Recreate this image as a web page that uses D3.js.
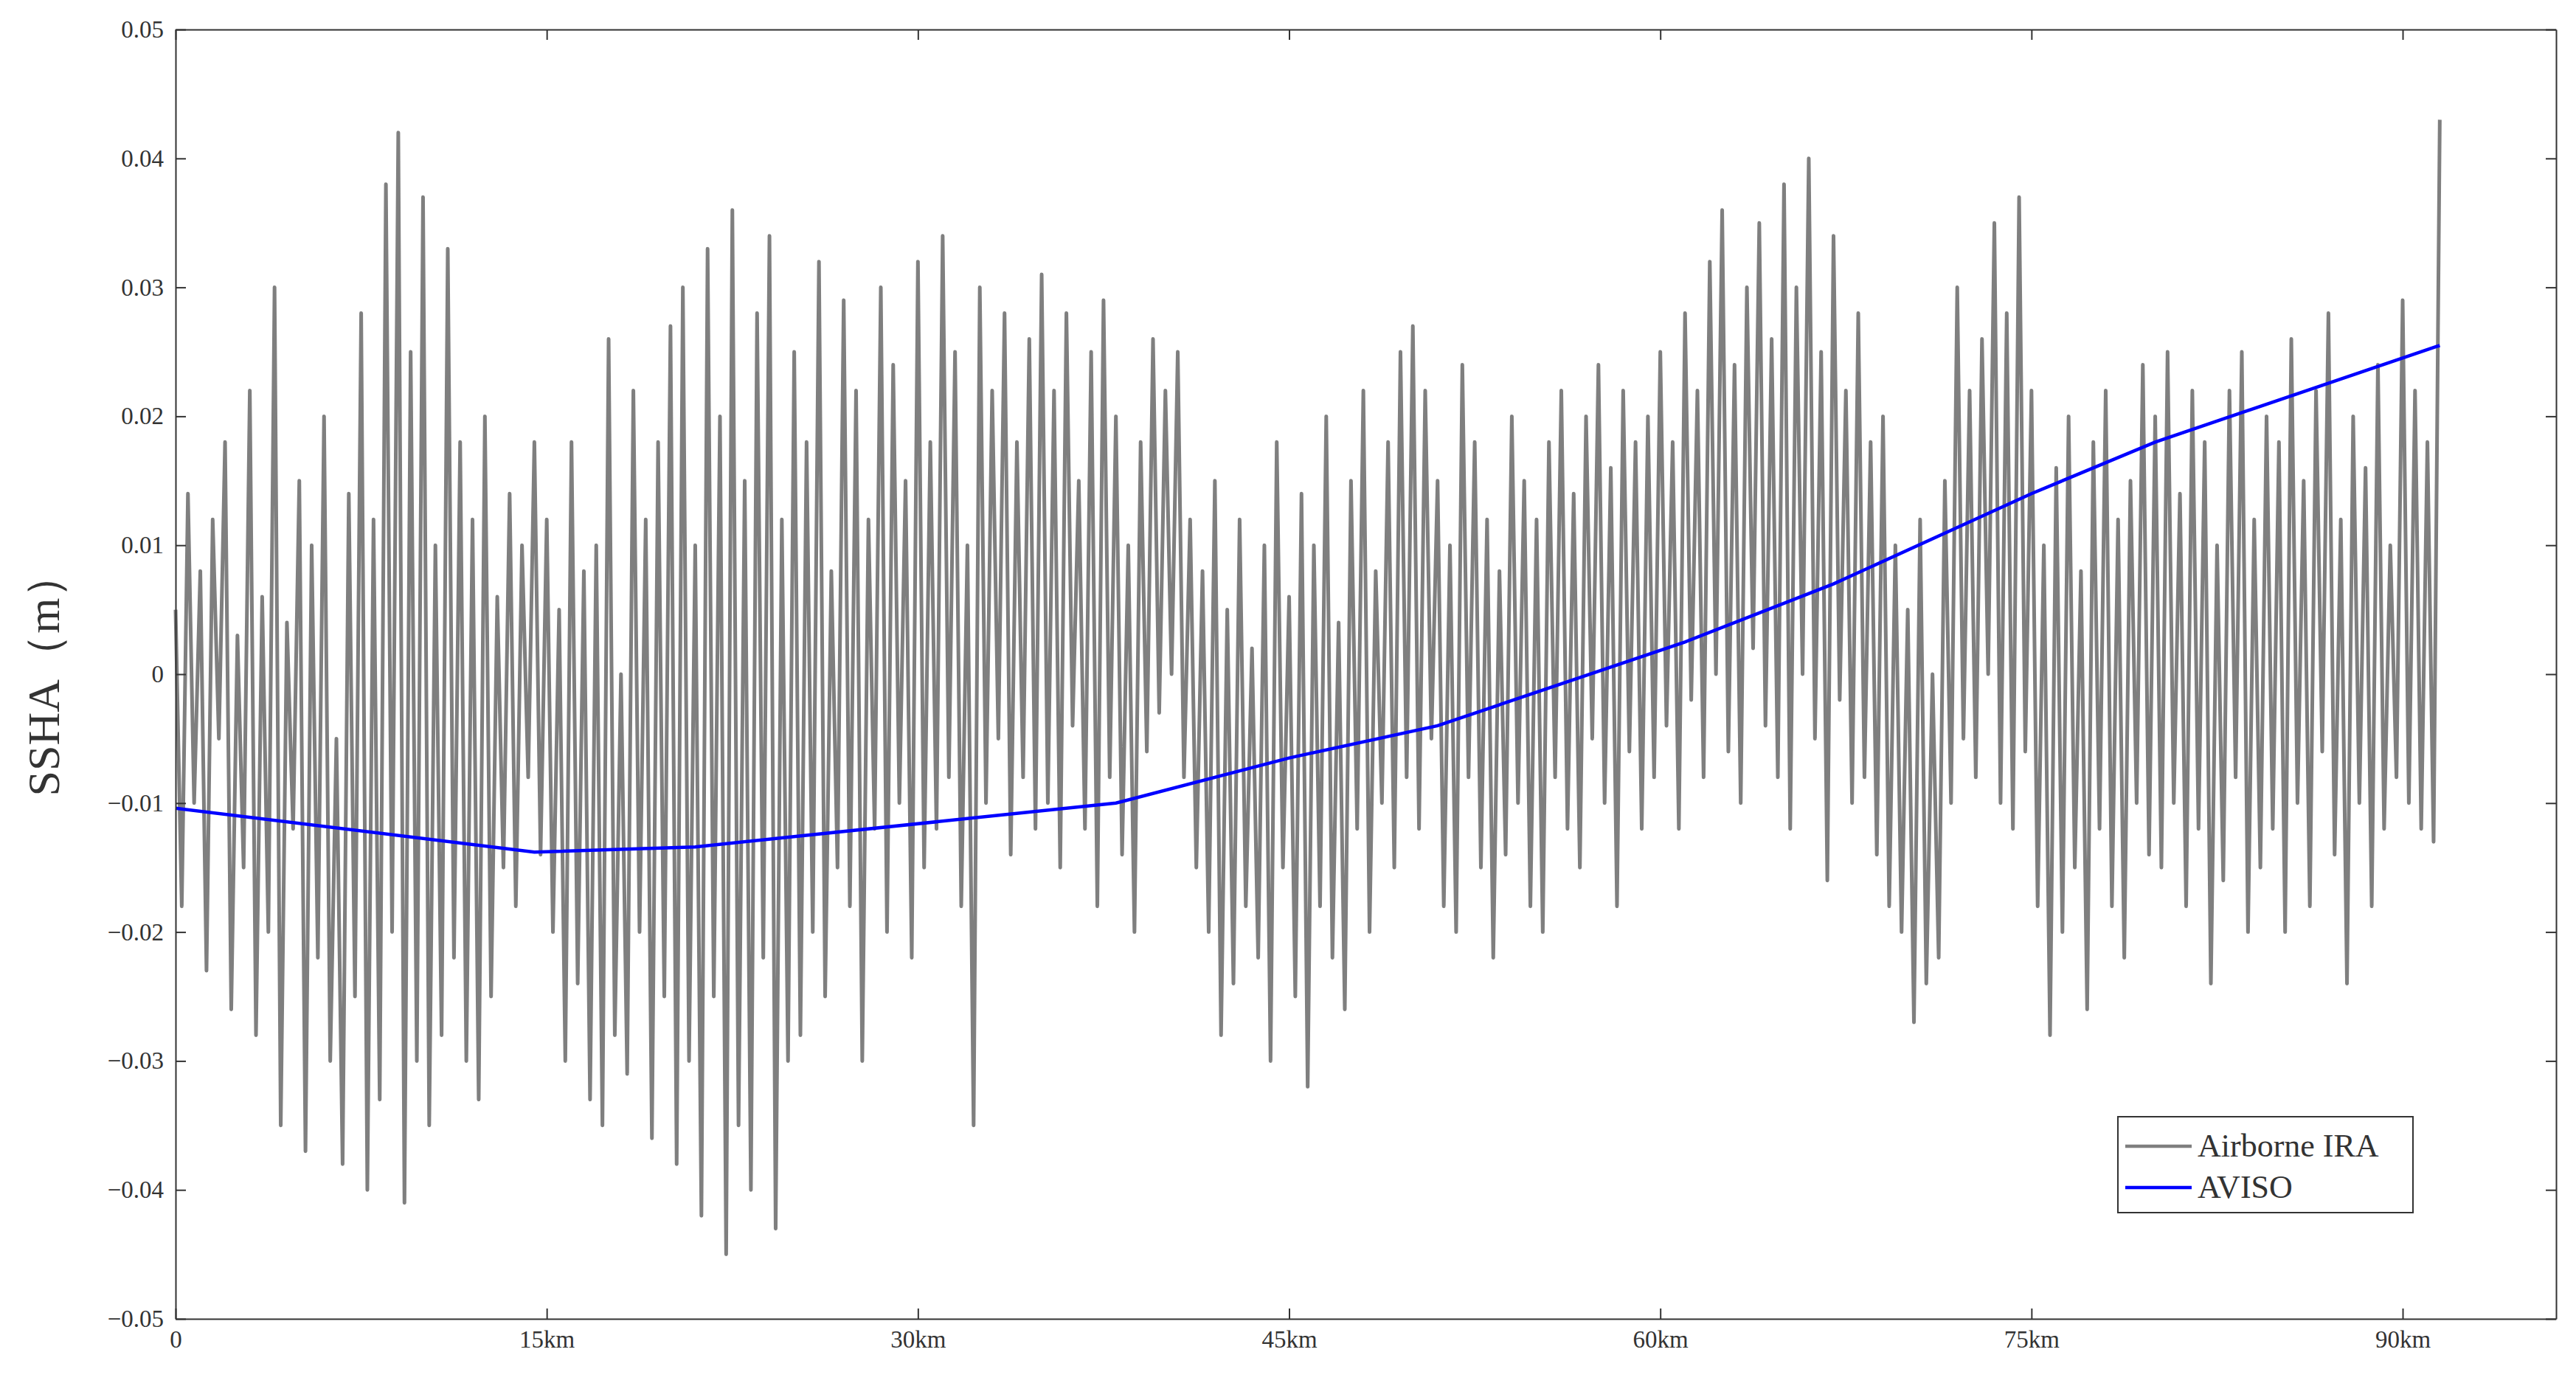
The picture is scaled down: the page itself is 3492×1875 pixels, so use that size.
<!DOCTYPE html>
<html lang="en">
<head>
<meta charset="UTF-8">
<title>SSHA</title>
<script src="https://d3js.org/d3.v7.min.js"></script>
<style>
  body { margin: 0; background: #fff; }
  text { font-family: "Liberation Serif", "DejaVu Serif", serif; fill: #333; }
</style>
</head>
<body>
<svg width="3492" height="1875"></svg>
<script>
// SSHA of airborne IRA, in mm, one sample every 0.25 km
const iraStep = 0.25;
const iraMm = [
  5,-18,14,-10,8,-23,12,-5,18,-26,3,-15,22,-28,6,-20,30,-35,4,-12,
  15,-37,10,-22,20,-30,-5,-38,14,-25,28,-40,12,-33,38,-20,42,-41,25,-30,
  37,-35,10,-28,33,-22,18,-30,12,-33,20,-25,6,-15,14,-18,10,-8,18,-14,
  12,-20,5,-30,18,-24,8,-33,10,-35,26,-28,0,-31,22,-20,12,-36,18,-25,
  27,-38,30,-30,10,-42,33,-25,20,-45,36,-35,15,-40,28,-22,34,-43,12,-30,
  25,-28,18,-20,32,-25,8,-15,29,-18,22,-30,12,-12,30,-20,24,-10,15,-22,
  32,-15,18,-12,34,-8,25,-18,10,-35,30,-10,22,-5,28,-14,18,-8,26,-12,
  31,-10,22,-15,28,-4,15,-12,25,-18,29,-8,20,-14,10,-20,18,-6,26,-3,
  22,0,25,-8,12,-15,8,-20,15,-28,5,-24,12,-18,2,-22,10,-30,18,-15,
  6,-25,14,-32,10,-18,20,-22,4,-26,15,-12,22,-20,8,-10,18,-15,25,-8,
  27,-12,22,-5,15,-18,10,-20,24,-8,18,-15,12,-22,8,-14,20,-10,15,-18,
  12,-20,18,-8,22,-12,14,-15,20,-5,24,-10,16,-18,22,-6,18,-12,20,-8,
  25,-4,18,-12,28,-2,22,-8,32,0,36,-6,24,-10,30,2,35,-4,26,-8,
  38,-12,30,0,40,-5,25,-16,34,-2,22,-10,28,-8,18,-14,20,-18,10,-20,
  5,-27,12,-24,0,-22,15,-10,30,-5,22,-8,26,0,35,-10,28,-12,37,-6,
  22,-18,10,-28,16,-20,20,-15,8,-26,18,-12,22,-18,12,-22,15,-10,24,-14,
  20,-15,25,-10,14,-18,22,-12,18,-24,10,-16,22,-8,25,-20,12,-15,20,-12,
  18,-20,26,-10,15,-18,22,-6,28,-14,12,-24,20,-10,16,-18,24,-12,10,-8,
  29,-10,22,-12,18,-13,43
];
const avisoKm = [0, 14.5, 21, 38, 45, 51, 61, 67, 75, 80, 91.5];
const avisoM = [-0.0104, -0.0138, -0.0134, -0.0100, -0.0065, -0.0040, 0.0025, 0.0070, 0.0140, 0.0180, 0.0255];
const xTicks = [0, 15, 30, 45, 60, 75, 90];
const yTicks = [-0.05, -0.04, -0.03, -0.02, -0.01, 0, 0.01, 0.02, 0.03, 0.04, 0.05];

const L = 238, R = 3465, T = 40, B = 1788;
const svg = d3.select("svg");
const x = d3.scaleLinear().domain([0, 96.2]).range([L, R]);
const y = d3.scaleLinear().domain([-0.05, 0.05]).range([B, T]);

const ira = iraMm.map((v, i) => [i * iraStep, v / 1000]);
const aviso = avisoKm.map((k, i) => [k, avisoM[i]]);

const line = d3.line().x(d => x(d[0])).y(d => y(d[1]));

svg.append("path").datum(ira).attr("d", line)
  .attr("fill", "none").attr("stroke", "#7f7f7f").attr("stroke-width", 5)
  .attr("stroke-linejoin", "round");
svg.append("path").datum(aviso).attr("d", line)
  .attr("fill", "none").attr("stroke", "#0000ff").attr("stroke-width", 4.5);

// axes box with inward ticks on all sides
const fmtY = d => d === 0 ? "0" : d3.format(".2f")(d).replace("-", "\u2212");
svg.append("g").attr("transform", `translate(0,${B})`)
  .call(d3.axisBottom(x).tickValues(xTicks).tickSizeInner(-14).tickSizeOuter(0).tickPadding(16)
    .tickFormat(d => d === 0 ? "0" : d + "km"));
svg.append("g").attr("transform", `translate(0,${T})`)
  .call(d3.axisTop(x).tickValues(xTicks).tickSizeInner(-14).tickSizeOuter(0).tickFormat(""));
svg.append("g").attr("transform", `translate(${L},0)`)
  .call(d3.axisLeft(y).tickValues(yTicks).tickSizeInner(-14).tickSizeOuter(0).tickPadding(16).tickFormat(fmtY));
svg.append("g").attr("transform", `translate(${R},0)`)
  .call(d3.axisRight(y).tickValues(yTicks).tickSizeInner(-14).tickSizeOuter(0).tickFormat(""));
svg.selectAll(".domain, .tick line").attr("stroke", "#333").attr("stroke-width", 2);
svg.selectAll(".tick text").attr("font-size", 33).attr("font-family", "Liberation Serif").attr("fill", "#333");

svg.append("text")
  .attr("transform", `translate(80,${(T + B) / 2}) rotate(-90)`)
  .attr("text-anchor", "middle").attr("font-size", 62).attr("fill", "#222")
  .text("SSHA（m）");

// legend
const lg = svg.append("g").attr("transform", "translate(2871,1514)");
lg.append("rect").attr("width", 400).attr("height", 130)
  .attr("fill", "#fff").attr("stroke", "#333").attr("stroke-width", 2);
const items = [["Airborne IRA", "#7f7f7f"], ["AVISO", "#0000ff"]];
items.forEach((it, i) => {
  const yy = 40 + i * 56;
  lg.append("line").attr("x1", 10).attr("x2", 100).attr("y1", yy).attr("y2", yy)
    .attr("stroke", it[1]).attr("stroke-width", 4.5);
  lg.append("text").attr("x", 108).attr("y", yy + 14).attr("font-size", 44)
    .attr("fill", "#111").text(it[0]);
});
</script>
</body>
</html>
